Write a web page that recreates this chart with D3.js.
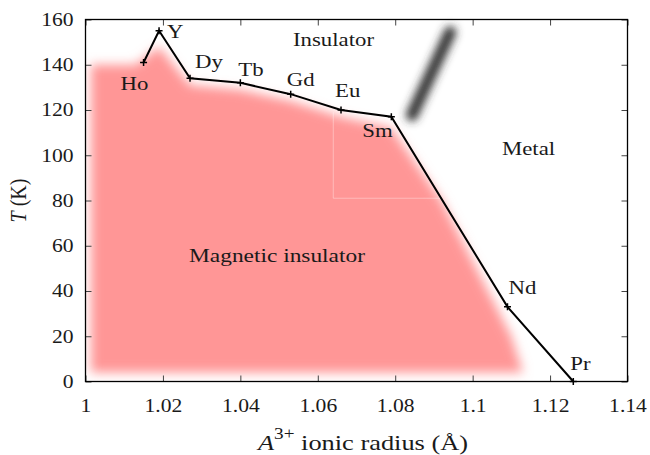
<!DOCTYPE html>
<html>
<head>
<meta charset="utf-8">
<script src="https://cdn.jsdelivr.net/npm/d3@7"></script>
<style>
  body { margin: 0; background: #fff; }
  svg text { font-family: "Liberation Serif", "Times New Roman", serif; fill: #1a1a1a; }
</style>
</head>
<body>
<div id="chart"></div>
<script>
// ---- data ----
var names  = ["Ho", "Y", "Dy", "Tb", "Gd", "Eu", "Sm", "Nd", "Pr"];
var radius = [1.015, 1.019, 1.027, 1.040, 1.053, 1.066, 1.079, 1.109, 1.126];
var temps  = [141, 155, 134, 132, 127, 120, 117, 33, 0];

// the line is drawn Ho -> Y -> Dy ... -> Pr
var xTicks = [1, 1.02, 1.04, 1.06, 1.08, 1.1, 1.12, 1.14];
var yTicks = [0, 20, 40, 60, 80, 100, 120, 140, 160];

// magnetic insulator region (radius, T)
var regionX = [1.0014, 1.013, 1.019, 1.027, 1.040, 1.053, 1.066, 1.079, 1.092, 1.104, 1.110, 1.113, 1.0014];
var regionT = [140, 140, 148, 131, 129, 124, 117, 112, 80, 40, 20, 4, 4];

// grey metal/insulator crossover streak
var streakX = [1.0843, 1.0942];
var streakT = [117.7, 154.4];

// faint guide lines inside the pink area
var guideX = [1.064, 1.064, 1.0916];
var guideT = [119, 81, 81];

// ---- layout ----
var W = 650, H = 455;
var margin = {top: 19.5, right: 22.5, bottom: 73.5, left: 85.5};
var sx = 1.2; // glyphs in the reference are wider than normal
var fs = 18;      // tick labels
var fsLabel = 19; // labels inside the plot
var fsTitle = 22; // axis titles

// label offsets from the point, in pixels
var labelOff = {
  Ho: [-23, 28], Y: [8, 7], Dy: [5, -10], Tb: [-2, -7], Gd: [-4, -8],
  Eu: [-6, -13], Sm: [-29, 20], Nd: [1, -13], Pr: [-3, -12]
};

var svg = d3.select("#chart").append("svg")
    .attr("width", W)
    .attr("height", H);

var x = d3.scaleLinear().domain([1, 1.14]).range([margin.left, W - margin.right]);
var y = d3.scaleLinear().domain([0, 160]).range([H - margin.bottom, margin.top]);

var defs = svg.append("defs");
defs.append("filter").attr("id", "blurPink")
    .attr("x", "-20%").attr("y", "-20%").attr("width", "140%").attr("height", "140%")
    .append("feGaussianBlur").attr("stdDeviation", 5.5);
defs.append("filter").attr("id", "blurGrey")
    .attr("x", "-50%").attr("y", "-50%").attr("width", "200%").attr("height", "200%")
    .append("feGaussianBlur").attr("stdDeviation", 4.5);
defs.append("clipPath").attr("id", "plotClip")
    .append("rect")
    .attr("x", x(1)).attr("y", y(160))
    .attr("width", x(1.14) - x(1)).attr("height", y(0) - y(160));

// pink region
var region = regionX.map(function(d, i){ return [x(d), y(regionT[i])]; });
svg.append("g").attr("clip-path", "url(#plotClip)")
  .append("path")
    .attr("d", d3.line()(region) + "Z")
    .attr("fill", "#ff9696")
    .attr("filter", "url(#blurPink)");

// faint guides
svg.append("path")
    .attr("d", d3.line()(guideX.map(function(d, i){ return [x(d), y(guideT[i])]; })))
    .attr("fill", "none")
    .attr("stroke", "#fff")
    .attr("stroke-opacity", 0.35)
    .attr("stroke-width", 1);

// grey streak
svg.append("path")
    .attr("d", d3.line()(streakX.map(function(d, i){ return [x(d), y(streakT[i])]; })))
    .attr("stroke", "#333")
    .attr("stroke-width", 12)
    .attr("stroke-linecap", "round")
    .attr("filter", "url(#blurGrey)");

// axes, ticks pointing inward on all four sides
function styleAxis(g) {
  g.select(".domain").remove();
  g.selectAll(".tick line").attr("stroke", "#444").attr("stroke-width", 1);
  g.selectAll(".tick text").attr("font-size", fs).attr("fill", "#1a1a1a");
}

var xb = svg.append("g")
    .attr("transform", "translate(0," + y(0) + ")")
    .call(d3.axisBottom(x).tickValues(xTicks).tickSizeInner(-6).tickSizeOuter(0).tickPadding(17.5)
      .tickFormat(function(d){ return +d.toFixed(2); }));
styleAxis(xb);
xb.selectAll(".tick text").attr("transform", "scale(" + sx + ",1)");

svg.append("g")
    .attr("transform", "translate(0," + y(160) + ")")
    .call(d3.axisTop(x).tickValues(xTicks).tickSizeInner(-6).tickSizeOuter(0).tickFormat(""))
    .call(styleAxis);

var yl = svg.append("g")
    .attr("transform", "translate(" + x(1) + ",0)")
    .call(d3.axisLeft(y).tickValues(yTicks).tickSizeInner(-6).tickSizeOuter(0).tickPadding(0));
styleAxis(yl);
yl.selectAll(".tick text")
    .attr("x", -12 / sx)
    .attr("transform", "scale(" + sx + ",1)");

svg.append("g")
    .attr("transform", "translate(" + x(1.14) + ",0)")
    .call(d3.axisRight(y).tickValues(yTicks).tickSizeInner(-6).tickSizeOuter(0).tickFormat(""))
    .call(styleAxis);

// frame
svg.append("rect")
    .attr("x", x(1)).attr("y", y(160))
    .attr("width", x(1.14) - x(1)).attr("height", y(0) - y(160))
    .attr("fill", "none")
    .attr("stroke", "#000")
    .attr("stroke-width", 1.3);

// phase boundary
var pts = radius.map(function(d, i){ return {name: names[i], px: x(d), py: y(temps[i])}; });

svg.append("path")
    .datum(pts)
    .attr("d", d3.line().x(function(d){ return d.px; }).y(function(d){ return d.py; }))
    .attr("fill", "none")
    .attr("stroke", "#000")
    .attr("stroke-width", 2)
    .attr("stroke-linejoin", "miter");

svg.selectAll(".mark")
    .data(pts)
    .enter().append("path")
    .attr("class", "mark")
    .attr("d", function(d){
      return "M" + (d.px - 3.5) + "," + d.py + "H" + (d.px + 3.5) +
             "M" + d.px + "," + (d.py - 3.5) + "V" + (d.py + 3.5);
    })
    .attr("stroke", "#000")
    .attr("stroke-width", 1.5);

// text helper: stretched text at (px, py)
function label(txt, px, py, size, anchor) {
  return svg.append("text")
    .attr("transform", "translate(" + px + "," + py + ") scale(" + sx + ",1)")
    .attr("text-anchor", anchor || "start")
    .attr("font-size", size)
    .text(txt);
}

pts.forEach(function(d){
  var o = labelOff[d.name];
  label(d.name, d.px + o[0], d.py + o[1], fsLabel);
});

label("Insulator", 293, 46, fsLabel);
label("Metal", 502, 155, fsLabel);
label("Magnetic insulator", 277, 262, 19.5, "middle");

// axis titles
var xt = svg.append("text")
    .attr("transform", "translate(363,450) scale(" + sx + ",1)")
    .attr("text-anchor", "middle")
    .attr("font-size", fsTitle);
xt.append("tspan").attr("font-style", "italic").text("A");
xt.append("tspan").attr("font-size", 16).attr("dy", -11).text("3+");
xt.append("tspan").attr("dy", 11).text(" ionic radius (Å)");

var yt = svg.append("text")
    .attr("transform", "translate(26," + ((y(0) + y(160)) / 2) + ") rotate(-90) scale(1," + sx + ")")
    .attr("text-anchor", "middle")
    .attr("font-size", 20);
yt.append("tspan").attr("font-style", "italic").text("T");
yt.append("tspan").text(" (K)");
</script>
</body>
</html>
